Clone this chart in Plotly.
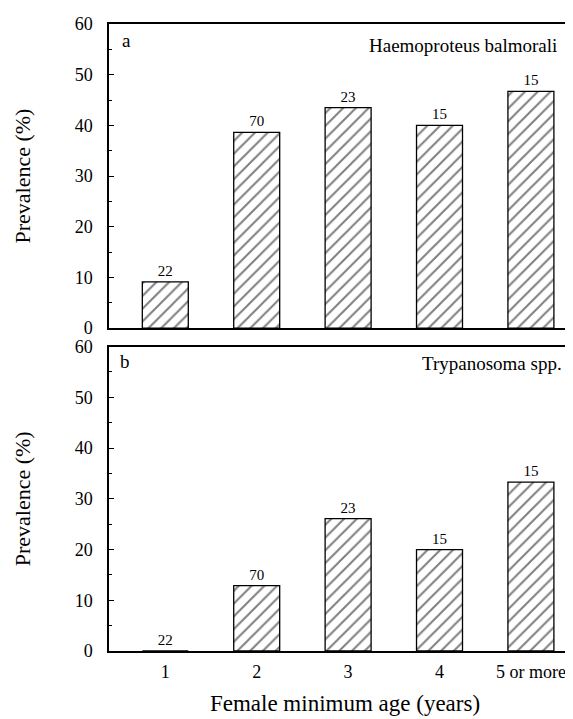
import plotly.graph_objects as go

categories = ["1", "2", "3", "4", "5 or more"]
x_pos = [1, 2, 3, 4, 5]
sample_sizes = [22, 70, 23, 15, 15]
haemoproteus = [9.1, 38.6, 43.5, 40.0, 46.7]
trypanosoma = [0.0, 12.9, 26.1, 20.0, 33.3]
y_ticks = [0, 10, 20, 30, 40, 50, 60]

FONT = "Liberation Serif, Times New Roman, serif"

fig = go.Figure()

bar_style = dict(
    width=0.503,
    marker=dict(
        color="white",
        line=dict(color="black", width=1.3),
        pattern=dict(shape="/", fgcolor="black", bgcolor="white", size=9, solidity=0.22),
    ),
    textposition="outside",
    textfont=dict(family=FONT, size=15, color="black"),
    cliponaxis=False,
    showlegend=False,
)

fig.add_trace(go.Bar(x=x_pos, y=haemoproteus, text=[str(n) for n in sample_sizes],
                     xaxis="x", yaxis="y", **bar_style))
fig.add_trace(go.Bar(x=x_pos, y=trypanosoma, text=[str(n) for n in sample_sizes],
                     xaxis="x2", yaxis="y2", **bar_style))

xr = [0.384, 5.548]
common_x = dict(range=xr, showline=True, linecolor="black", linewidth=1.5, mirror=True,
                showgrid=False, zeroline=False, ticks="", fixedrange=True)
common_y = dict(range=[0, 60], tickvals=y_ticks, showline=True, linecolor="black", linewidth=1.5,
                mirror=False, showgrid=False, zeroline=False, ticks="inside", ticklen=5,
                tickcolor="black", minor=dict(ticks="inside", ticklen=3, dtick=5, tickcolor="black"),
                tickfont=dict(family=FONT, size=18, color="black"), ticklabelstandoff=11,
                title=dict(text="Prevalence (%)", font=dict(family=FONT, size=22, color="black"),
                           standoff=38))

fig.update_layout(
    width=573, height=719,
    margin=dict(l=101, r=0, t=16, b=76),
    plot_bgcolor="white", paper_bgcolor="white",
    xaxis=dict(domain=[0, 1], anchor="y", showticklabels=False, **common_x),
    yaxis=dict(domain=[0.515, 1], anchor="x", **common_y),
    xaxis2=dict(domain=[0, 1], anchor="y2", tickvals=x_pos, ticktext=categories,
                tickfont=dict(family=FONT, size=18, color="black"), ticklabelstandoff=4,
                title=dict(text="Female minimum age (years)",
                           font=dict(family=FONT, size=23, color="black"), standoff=14),
                **common_x),
    yaxis2=dict(domain=[0, 0.4855], anchor="x2", **common_y),
    annotations=[
        dict(text="a", x=0.0227, y=0.974, xref="paper", yref="paper", xanchor="left", yanchor="middle",
             showarrow=False, font=dict(family=FONT, size=19, color="black")),
        dict(text="Haemoproteus balmorali", x=0.9527, y=0.9665, xref="paper", yref="paper",
             xanchor="right", yanchor="middle", showarrow=False,
             font=dict(family=FONT, size=19, color="black")),
        dict(text="b", x=0.019, y=0.462, xref="paper", yref="paper", xanchor="left", yanchor="middle",
             showarrow=False, font=dict(family=FONT, size=19, color="black")),
        dict(text="Trypanosoma spp.", x=0.963, y=0.459, xref="paper", yref="paper",
             xanchor="right", yanchor="middle", showarrow=False,
             font=dict(family=FONT, size=19, color="black")),
    ],
)

fig.write_html("out.html")
